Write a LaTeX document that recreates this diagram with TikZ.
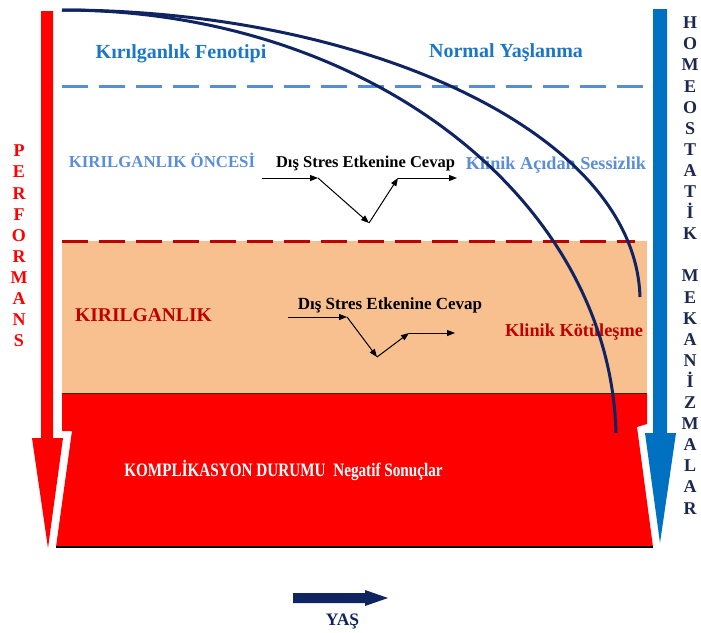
\documentclass[tikz,border=0pt]{standalone}
\usepackage{fontspec}
\setmainfont{Liberation Serif}
\usetikzlibrary{arrows.meta}

\definecolor{navy}{RGB}{16,36,98}
\definecolor{peach}{RGB}{248,191,143}
\definecolor{darkred}{RGB}{192,0,0}
\definecolor{phenoblue}{RGB}{28,118,198}
\definecolor{paleblue}{RGB}{92,142,214}
\definecolor{dashblue}{RGB}{86,142,214}
\definecolor{homeo}{RGB}{0,112,192}
\definecolor{lettersnavy}{RGB}{28,40,78}

\begin{document}
\begin{tikzpicture}[x=1pt,y=-1pt,
  txt/.style={inner sep=0pt, anchor=base, font=\bfseries\fontsize{#1}{#1}\selectfont},
  vtxt/.style={inner sep=0pt, align=center, font=\bfseries\fontsize{#1}{21.1}\selectfont},
  stressarrow/.style={line width=1pt, -{Triangle[length=8pt,width=6pt]}},
  agecurve/.style={line width=3pt, draw=navy},
  zonedash/.style={line width=3pt, dash pattern=on 26pt off 11pt},
]
\useasboundingbox (0,0) rectangle (701,632);

% zones: frailty band and complication band
\fill[peach] (62,241) rectangle (647,393);
\fill[red] (62,393) -- (647,393) -- (647,424) -- (637,427) -- (653,547)
  -- (56,547) -- (72,431) -- (62,431) -- cycle;
\draw[line width=1pt, black!70!brown] (62,393) -- (647,393);
\draw[line width=1.5pt] (56,547) -- (653,547);

% zone borders
\draw[zonedash, dashblue] (62,86) -- (646,86);
\draw[zonedash, darkred] (62,241) -- (635,241);

% performance axis (left) and homeostatic mechanisms axis (right)
\fill[red] (41,11) -- (53,11) -- (53,438) -- (63,438) -- (48,548) -- (32,438) -- (41,438) -- cycle;
\fill[homeo] (653,9) -- (667,9) -- (667,433) -- (676,433) -- (660,543) -- (645,433) -- (653,433) -- cycle;

% age arrow
\fill[navy] (293,593) -- (365,593) -- (365,590) -- (388,598) -- (365,606) -- (365,603) -- (293,603) -- cycle;
\node[txt=17.5, navy] (yas) at (342.5,625) {YAŞ};

% labels
\node[txt=20, phenoblue] (fenotip) at (181,58) {Kırılganlık Fenotipi};
\node[txt=20, phenoblue] (normal) at (506,57) {Normal Yaşlanma};
\node[txt=16.8, paleblue] (oncesi) at (162,167) {KIRILGANLIK ÖNCESİ};
\node[txt=18.2, paleblue] (sessiz) at (556,169) {Klinik Açıdan Sessizlik};
\node[txt=16.5] (stresA) at (365.5,167) {Dış Stres Etkenine Cevap};
\node[txt=19.5, darkred] (kirilgan) at (143.5,321) {KIRILGANLIK};
\node[txt=17, black] (stresB) at (390,309) {Dış Stres Etkenine Cevap};
\node[txt=18.3, darkred] (kotu) at (574,336) {Klinik Kötüleşme};
\node[txt=19, white] (komp) at (283.5,476) {\scalebox{0.8}[1]{KOMPLİKASYON DURUMU\ \ Negatif Sonuçlar}};

\node[vtxt=18, red] (perf) at (19,246) {P\\E\\R\\F\\O\\R\\M\\A\\N\\S};
\node[vtxt=18, lettersnavy] (homeost) at (690,265.5)
  {H\\O\\M\\E\\O\\S\\T\\A\\T\\İ\\K\\[21.1pt]M\\E\\K\\A\\N\\İ\\Z\\M\\A\\L\\A\\R};

% response to an external stressor, pre-frail
\coordinate (a1) at (262,178);
\coordinate (a2) at (318,178);
\coordinate (a3) at (369,223);
\coordinate (a4) at (398,178);
\coordinate (a5) at (457,178);
\draw[stressarrow] (a1) -- (a2);
\draw[stressarrow] (a2) -- (a3);
\draw[stressarrow] (a3) -- (a4);
\draw[stressarrow] (a4) -- (a5);

% response to an external stressor, frail
\coordinate (b1) at (288,317);
\coordinate (b2) at (347,317);
\coordinate (b3) at (377,357);
\coordinate (b4) at (409,333);
\coordinate (b5) at (455,333);
\draw[stressarrow] (b1) -- (b2);
\draw[stressarrow] (b2) -- (b3);
\draw[stressarrow] (b3) -- (b4);
\draw[stressarrow] (b4) -- (b5);

% ageing trajectories
\coordinate (start) at (62,10);
\coordinate (normalEnd) at (640,297);
\coordinate (frailEnd) at (616,433);
\draw[agecurve] (start) .. controls (360,10) and (635,130) .. (normalEnd);
\draw[agecurve] (start) .. controls (368,10) and (610,199) .. (frailEnd);
\end{tikzpicture}
\end{document}
